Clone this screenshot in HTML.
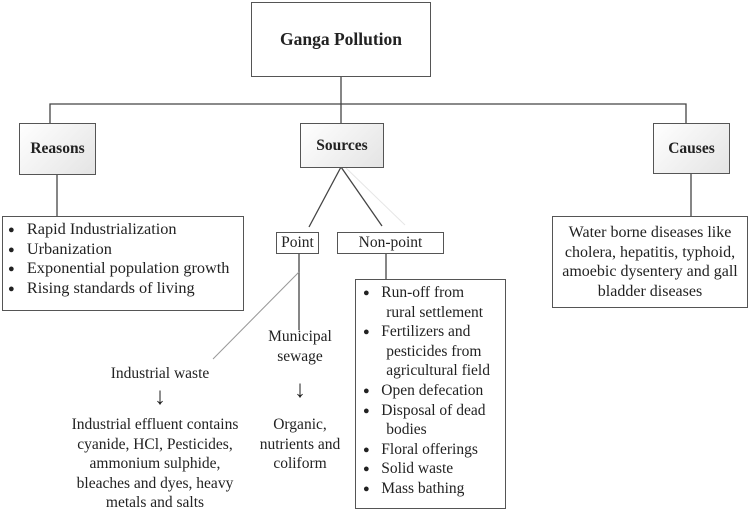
<!DOCTYPE html>
<html><head><style>
body{margin:0;width:749px;height:511px;background:#fff;position:relative;overflow:hidden;font-family:"Liberation Serif","Times New Roman","DejaVu Serif",serif;color:#222}
.a{position:absolute;white-space:nowrap;font-size:15.5px;line-height:19.6px;font-family:"Liberation Serif","Times New Roman",serif}
.b{position:absolute;border:1px solid #555;box-sizing:border-box;background:#fff}
.g{background:linear-gradient(135deg,#fff,#e4e4e4);font-weight:bold;display:flex;align-items:center;justify-content:center;font-size:15.5px;font-family:"Liberation Serif","Times New Roman",serif}
.c{text-align:center}
.d{font-size:11px;vertical-align:1px;line-height:0}
.ar{font-size:24px;line-height:24px}
</style></head><body>
<svg width="749" height="511" style="position:absolute;left:0;top:0">
<g stroke="#444" stroke-width="1.3" fill="none">
<line x1="341" y1="76" x2="341" y2="123"/>
<polyline points="50,123 50,104 686,104 686,123"/>
<line x1="57" y1="174" x2="57" y2="216"/>
<line x1="691" y1="173" x2="691" y2="216"/>
<line x1="341" y1="167" x2="309" y2="227"/>
<line x1="341" y1="167" x2="382" y2="226"/>
<line x1="299" y1="253" x2="299" y2="330"/>
<line x1="386" y1="253" x2="386" y2="280"/>
</g>
<line x1="299" y1="272" x2="213" y2="359" stroke="#999" stroke-width="1"/>
<line x1="345" y1="167" x2="405" y2="225" stroke="#e6e6e6" stroke-width="1"/>
</svg>
<div class="b" style="left:251px;top:2px;width:180px;height:75px;display:flex;align-items:center;justify-content:center;font-weight:bold;font-size:17.5px;font-family:'Liberation Serif',serif">Ganga Pollution</div>
<div class="b g" style="left:19px;top:123px;width:77px;height:52px">Reasons</div>
<div class="b g" style="left:300px;top:123px;width:84px;height:45px">Sources</div>
<div class="b g" style="left:653px;top:123px;width:77px;height:51px">Causes</div>
<div class="b" style="left:2px;top:216px;width:242px;height:95px"></div>
<div class="a" style="left:8px;top:219px;font-size:16.3px;line-height:19.5px"><span class="d">●</span>&nbsp;&nbsp; Rapid Industrialization<br><span class="d">●</span>&nbsp;&nbsp; Urbanization<br><span class="d">●</span>&nbsp;&nbsp; Exponential population growth<br><span class="d">●</span>&nbsp;&nbsp; Rising standards of living</div>
<div class="b" style="left:552px;top:216px;width:196px;height:92px"></div>
<div class="a c" style="left:552px;top:223px;width:196px;font-size:16px">Water borne diseases like<br>cholera, hepatitis, typhoid,<br>amoebic dysentery and gall<br>bladder diseases</div>
<div class="b c a" style="left:276px;top:232px;width:43px;height:22px;line-height:20px">Point</div>
<div class="b c a" style="left:337px;top:232px;width:107px;height:22px;line-height:20px">Non-point</div>
<div class="b" style="left:355px;top:279px;width:151px;height:230px"></div>
<div class="a" style="left:363px;top:283px"><span class="d">●</span>&nbsp;&nbsp; Run-off from<br>&nbsp;&nbsp;&nbsp;&nbsp;&nbsp; rural settlement<br><span class="d">●</span>&nbsp;&nbsp; Fertilizers and<br>&nbsp;&nbsp;&nbsp;&nbsp;&nbsp; pesticides from<br>&nbsp;&nbsp;&nbsp;&nbsp;&nbsp; agricultural field<br><span class="d">●</span>&nbsp;&nbsp; Open defecation<br><span class="d">●</span>&nbsp;&nbsp; Disposal of dead<br>&nbsp;&nbsp;&nbsp;&nbsp;&nbsp; bodies<br><span class="d">●</span>&nbsp;&nbsp; Floral offerings<br><span class="d">●</span>&nbsp;&nbsp; Solid waste<br><span class="d">●</span>&nbsp;&nbsp; Mass bathing</div>
<div class="a c" style="left:255px;top:327px;width:90px">Municipal<br>sewage</div>
<div class="a c ar" style="left:255px;top:378px;width:90px">↓</div>
<div class="a c" style="left:255px;top:415px;width:90px">Organic,<br>nutrients and<br>coliform</div>
<div class="a c" style="left:60px;top:364px;width:200px">Industrial waste</div>
<div class="a c ar" style="left:60px;top:385px;width:200px">↓</div>
<div class="a c" style="left:30px;top:415px;width:250px">Industrial effluent contains<br>cyanide, HCl, Pesticides,<br>ammonium sulphide,<br>bleaches and dyes, heavy<br>metals and salts</div>
</body></html>
